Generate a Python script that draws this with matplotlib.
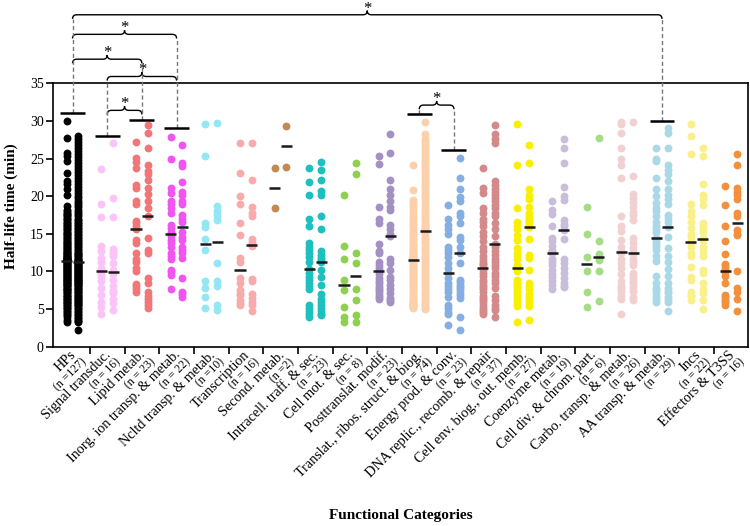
import numpy as np
import matplotlib
matplotlib.use("Agg")
import matplotlib.pyplot as plt
from matplotlib.path import Path
from matplotlib.patches import PathPatch

plt.rcParams['font.family'] = ['Liberation Serif', 'DejaVu Serif']

categories = ["HPs", "Signal transduc.", "Lipid metab.", "Inorg. ion transp. & metab.",
              "Ncltd transp. & metab.", "Transcription", "Second. metab.",
              "Intracell. traff. & sec.", "Cell mot. & sec.", "Posttranslat. modif.",
              "Translat., ribos. struct. & biog.", "Energy prod. & conv.",
              "DNA replic., recomb. & repair", "Cell env. biog., out. memb.",
              "Coenzyme metab.", "Cell div. & chrom. part.", "Carbo. transp. & metab.",
              "AA transp. & metab.", "Incs", "Effectors & T3SS"]
n_labels = ["(n =127)", "(n = 16)", "(n = 23)", "(n = 22)", "(n =10)", "(n = 16)", "(n =2)",
            "(n = 23)", "(n = 8)", "(n = 23)", "(n = 74)", "(n = 23)", "(n = 37)", "(n = 27)",
            "(n = 19)", "(n = 6)", "(n = 26)", "(n = 29)", "(n = 22)", "(n = 16)"]
colors = ["#000000", "#fbc3f7", "#f27578", "#f055f0", "#93e7f4", "#f9aaaa", "#c28a52",
          "#1dbfbf", "#8fd14f", "#a391c4", "#fcd0aa", "#85aee2", "#d4898a", "#f8f000",
          "#c9bddb", "#a6dc86", "#f1d0d2", "#a9d8e6", "#f9f08a", "#f2903e"]

hps_1 = [30.0, 27.7, 25.8, 25.4, 24.7, 23.1, 22.0, 21.6, 20.9, 20.2, 18.7,
         18.2, 18.0, 17.8, 17.6, 17.5, 17.3, 17.1, 17.0, 16.8, 16.6, 16.5, 16.3, 16.1, 16.0,
         15.8, 15.6, 15.5, 15.3, 15.1, 15.0, 14.8, 14.7, 14.5, 14.4, 14.2, 14.1, 13.9, 13.8,
         13.6, 13.5, 13.4, 13.2, 13.1, 13.0, 12.9, 12.7, 12.6, 12.5, 12.4, 12.3, 12.2, 12.1,
         12.0, 11.9, 11.8, 11.8, 11.7, 11.6, 11.6, 11.5, 11.5, 11.4, 11.4,
         11.3, 11.2, 11.1, 11.0, 10.9, 10.8, 10.7, 10.6, 10.5, 10.4, 10.3, 10.2, 10.1, 10.0,
         9.9, 9.8, 9.7, 9.6, 9.5, 9.4, 9.3, 9.2, 9.1, 9.0, 8.9, 8.8, 8.7, 8.6, 8.5, 8.4,
         8.3, 8.2, 8.1, 8.0, 7.8, 7.7, 7.6, 7.5, 7.4, 7.2, 7.1, 7.0, 6.8, 6.7, 6.6, 6.4,
         6.3, 6.2, 6.0, 5.9, 5.8, 5.6, 5.5, 5.3, 5.2, 5.0, 4.8, 4.6, 4.4, 4.2, 3.9, 3.6, 3.3]
hps_2 = [28.0, 27.6, 27.2, 26.8, 26.4, 26.0, 25.6, 25.2, 24.8, 24.4, 24.0, 23.6, 23.2,
         22.8, 22.4, 22.0, 21.6, 21.2, 20.8, 20.4, 20.0, 19.7, 19.4, 19.1, 18.8, 18.5, 18.2,
         17.9, 17.6, 17.3, 17.0, 16.8, 16.6, 16.4, 16.2, 16.0, 15.8, 15.6, 15.4, 15.2, 15.0,
         14.8, 14.6, 14.4, 14.2, 14.0, 13.8, 13.6, 13.4, 13.2, 13.0, 12.8, 12.6, 12.5, 12.3,
         12.2, 12.0, 11.9, 11.7, 11.6, 11.5, 11.4, 11.3, 11.2,
         11.1, 11.0, 10.9, 10.8, 10.7, 10.6, 10.5, 10.4, 10.3, 10.2, 10.1, 10.0, 9.9, 9.8,
         9.7, 9.6, 9.5, 9.4, 9.3, 9.2, 9.1, 9.0, 8.9, 8.8, 8.7, 8.6, 8.5, 8.4, 8.3, 8.2,
         8.1, 8.0, 7.8, 7.7, 7.6, 7.4, 7.3, 7.2, 7.0, 6.9, 6.8, 6.6, 6.5, 6.4, 6.2, 6.1,
         6.0, 5.8, 5.7, 5.5, 5.4, 5.2, 5.0, 4.8, 4.6, 4.4, 4.2, 4.0, 3.8, 3.6, 3.4, 3.3, 2.2]
signal_1 = [23.6, 18.9, 17.2, 13.4, 12.7, 11.8, 11.2, 10.5, 9.7, 9.2, 8.7, 7.8, 6.9, 6.0, 5.3, 4.4]
signal_2 = [27.0, 19.8, 17.2, 13.0, 12.4, 12.0, 11.1, 10.2, 9.7, 8.9, 8.0, 7.4, 7.1, 6.4, 5.8, 4.9]
lipid_1 = [27.2, 25.1, 24.6, 23.8, 21.5, 21.1, 19.4, 19.0, 16.7, 16.4, 16.1, 15.6, 14.2, 13.8,
           12.4, 11.6, 11.2, 10.4, 10.0, 8.3, 8.0, 7.7, 7.3]
lipid_2 = [29.4, 28.4, 26.4, 24.2, 23.3, 22.9, 22.2, 21.1, 20.3, 19.3, 18.4, 17.4, 14.4, 12.9,
           12.4, 9.1, 8.4, 7.3, 6.8, 6.4, 6.0, 5.5, 5.1]
inorg_1 = [27.9, 24.9, 21.1, 20.4, 19.4, 18.9, 18.4, 17.8, 16.2, 15.8, 15.3, 14.7, 14.2, 13.8,
           13.3, 12.4, 12.0, 11.6, 10.2, 9.9, 9.5, 7.6]
inorg_2 = [26.8, 24.4, 24.0, 21.9, 20.5, 20.1, 19.4, 18.9, 17.5, 17.0, 16.6, 15.2, 14.6, 14.2,
           13.3, 12.8, 12.4, 11.8, 9.1, 7.3, 7.0, 6.6]
ncltd_1 = [29.6, 25.3, 16.4, 15.9, 14.3, 12.9, 8.7, 7.8, 6.6, 5.1]
ncltd_2 = [29.7, 18.7, 18.0, 17.5, 16.8, 11.1, 8.7, 8.0, 5.6, 4.9]
transc_1 = [27.0, 23.1, 20.0, 18.9, 16.45, 14.8, 11.8, 11.3, 9.1, 8.45, 7.56, 7.0, 6.9, 6.2, 5.8, 5.56]
transc_2 = [27.0, 22.2, 18.5, 17.8, 17.3, 14.3, 13.9, 13.7, 13.4, 9.0, 8.7, 7.0, 6.5, 6.0, 5.5, 4.8]
second_1 = [23.8, 18.4]
second_2 = [29.3, 23.9]
intra_1 = [23.8, 21.9, 20.2, 17.0, 16.0, 13.8, 13.3, 12.9, 12.4, 11.9, 11.2, 10.3, 9.8, 9.3,
           8.9, 8.5, 8.1, 7.6, 5.6, 5.1, 4.7, 4.3, 4.0]
intra_2 = [24.5, 23.5, 22.2, 20.7, 20.2, 17.3, 15.6, 12.7, 12.2, 11.8, 11.5, 11.2, 10.2, 9.3,
           8.2, 7.0, 6.4, 6.0, 5.6, 5.1, 4.7, 4.4, 4.2]
cellmot_1 = [20.1, 13.4, 11.6, 8.9, 7.56, 5.24, 4.0, 3.3]
cellmot_2 = [24.4, 23.0, 12.4, 11.1, 7.65, 6.2, 4.2, 3.3]
posttr_1 = [25.4, 24.3, 18.6, 16.9, 16.5, 13.7, 12.7, 12.4, 11.2, 10.8, 10.4, 10.0, 9.6, 9.1,
            8.7, 8.4, 8.1, 7.8, 7.5, 7.2, 6.9, 6.6, 6.4]
posttr_2 = [28.3, 25.8, 22.2, 21.0, 20.2, 19.3, 18.6, 18.1, 16.2, 15.6, 15.0, 14.7, 11.6, 11.1,
            10.2, 9.2, 8.9, 8.2, 7.6, 7.1, 6.5, 6.2, 6.0]
transl_1 = [24.1, 20.8, 19.5, 19.2, 18.8, 18.5, 18.1, 17.8, 17.4, 17.1, 16.8, 16.5, 16.2, 15.9,
            15.6, 15.3, 15.0, 14.7, 14.5, 14.2, 14.0, 13.7, 13.5, 13.3, 13.1, 12.9, 12.7, 12.5,
            12.4, 12.2, 12.1, 12.0, 11.9, 11.8, 11.7, 11.6, 11.6,
            11.5, 11.4, 11.2, 11.0, 10.8, 10.6, 10.4, 10.2, 10.0, 9.8, 9.6, 9.4, 9.2, 9.0, 8.8,
            8.6, 8.4, 8.2, 8.0, 7.8, 7.6, 7.4, 7.2, 7.0, 6.8, 6.6, 6.4, 6.2, 6.0, 5.9, 5.8, 5.7,
            5.6, 5.5, 5.4, 5.3, 5.2]
transl_2 = [29.8, 28.2, 27.6, 27.2, 26.8, 26.4, 26.0, 25.6, 25.2, 24.8, 24.4, 24.0, 23.6, 23.2,
            22.8, 22.4, 22.0, 21.6, 21.2, 20.8, 20.4, 20.0, 19.6, 19.2, 18.8, 18.4, 18.0, 17.7,
            17.4, 17.1, 16.8, 16.5, 16.2, 16.0, 15.8, 15.6, 15.5,
            15.3, 15.1, 14.8, 14.5, 14.2, 13.9, 13.6, 13.3, 13.0, 12.7, 12.4, 12.1, 11.8, 11.5,
            11.2, 10.9, 10.6, 10.3, 10.0, 9.7, 9.4, 9.1, 8.8, 8.5, 8.2, 7.9, 7.6, 7.3, 7.0, 6.7,
            6.4, 6.1, 5.8, 5.6, 5.4, 5.2, 5.0]
energy_1 = [18.8, 17.0, 16.2, 15.6, 15.0, 13.3, 12.9, 12.4, 11.9, 11.1, 10.5, 9.8, 9.1, 8.5,
            8.0, 7.7, 7.3, 6.6, 5.6, 5.1, 4.6, 4.3, 2.9]
energy_2 = [25.1, 22.4, 20.9, 19.9, 19.3, 17.8, 17.4, 16.4, 14.6, 14.2, 13.3, 12.4, 11.1, 8.9,
            8.6, 8.2, 7.9, 7.6, 7.2, 6.9, 6.5, 4.0, 2.2]
dna_1 = [23.7, 21.1, 20.4, 18.4, 17.8, 17.0, 16.6, 16.1, 15.3, 14.7, 14.0, 13.3, 12.7, 12.0,
         11.7, 11.3, 11.0, 10.8, 10.5, 10.2, 9.8, 9.4, 8.9, 8.6, 8.2, 7.9, 7.6, 7.2, 6.8, 6.5,
         6.2, 5.9, 5.6, 5.2, 4.9, 4.6, 4.4]
dna_2 = [29.4, 28.3, 27.6, 27.0, 22.0, 21.5, 21.0, 20.6, 20.2, 19.7, 19.3, 18.8, 18.4, 17.8,
         17.3, 16.4, 15.6, 14.7, 13.7, 13.2, 12.7, 12.2, 11.6, 11.2, 10.8, 10.4, 9.8, 9.4, 8.9,
         8.4, 7.8, 6.8, 6.2, 5.6, 5.2, 4.9, 4.0]
cellenv_1 = [29.6, 24.1, 18.4, 16.6, 16.1, 15.6, 14.9, 14.2, 13.1, 12.4, 12.0, 11.6, 10.9, 10.45,
             10.0, 8.9, 8.5, 8.2, 7.9, 7.6, 7.2, 6.9, 6.5, 6.2, 5.8, 5.4, 3.3]
cellenv_2 = [26.8, 24.4, 20.9, 20.2, 19.6, 18.6, 17.8, 17.3, 17.0, 16.8, 16.6, 16.3, 16.1, 15.9,
             14.3, 12.2, 11.8, 10.2, 8.5, 8.0, 7.6, 7.0, 6.6, 6.2, 5.8, 5.4, 3.6]
coenz_1 = [19.4, 18.2, 17.6, 16.1, 14.5, 14.0, 13.4, 12.9, 12.6, 12.4, 11.6, 11.2, 10.9, 10.2,
           9.6, 9.2, 8.7, 8.2, 7.6]
coenz_2 = [27.6, 26.4, 24.4, 21.2, 20.0, 19.5, 16.8, 16.3, 16.0, 15.55, 14.3, 11.6, 11.1, 10.4,
           9.8, 9.1, 8.5, 8.1, 7.9]
celldiv_1 = [18.5, 14.96, 11.9, 10.0, 7.2, 5.33]
celldiv_2 = [27.7, 14.1, 12.3, 11.5, 10.0, 6.1]
carbo_1 = [29.9, 29.6, 28.4, 26.4, 24.9, 24.2, 22.4, 17.3, 16.0, 15.4, 14.2, 13.3, 12.7, 12.4,
           11.6, 11.1, 10.4, 9.6, 8.7, 8.2, 7.9, 7.6, 7.2, 6.8, 6.4, 4.3]
carbo_2 = [29.9, 22.7, 20.3, 19.8, 19.2, 18.5, 17.9, 17.5, 16.8, 14.4, 13.8, 13.1, 12.6, 12.3,
           11.6, 11.2, 10.9, 9.8, 9.4, 9.1, 8.7, 8.4, 7.9, 7.4, 6.6, 6.2]
aa_1 = [26.4, 25.0, 24.7, 22.4, 20.9, 20.0, 19.1, 18.4, 18.0, 17.4, 16.6, 16.1, 15.6, 15.2, 14.5,
        14.0, 13.6, 13.2, 12.8, 12.0, 11.4, 9.4, 8.4, 7.8, 7.5, 7.3, 6.8, 6.3, 6.0]
aa_2 = [29.1, 28.4, 26.4, 24.2, 23.5, 22.9, 22.0, 20.9, 20.2, 19.6, 18.9, 17.5, 17.1, 16.6, 15.9,
        14.6, 13.1, 12.0, 11.2, 10.3, 9.4, 8.4, 7.8, 7.4, 7.1, 6.6, 6.3, 6.0, 4.8]
incs_1 = [29.6, 28.0, 25.6, 19.0, 18.0, 17.4, 16.6, 15.8, 15.0, 14.6, 14.1, 13.7, 13.3, 12.4,
          12.0, 10.6, 9.3, 8.9, 7.3, 6.9, 6.7, 6.2]
incs_2 = [26.4, 25.3, 21.6, 20.2, 19.6, 18.8, 16.5, 16.0, 15.6, 15.3, 14.5, 14.1, 13.3, 12.7,
          12.0, 10.2, 9.8, 8.4, 7.6, 7.1, 6.2, 5.0]
effect_1 = [21.4, 18.8, 16.1, 14.1, 12.3, 11.0, 10.7, 10.3, 9.9, 9.4, 8.5, 6.9, 6.6, 6.2, 5.9, 5.6]
effect_2 = [25.6, 24.1, 21.1, 20.5, 20.2, 19.6, 17.7, 17.3, 15.5, 15.0, 14.8, 10.0, 7.8, 7.3, 6.4, 4.8]

series_1 = [hps_1, signal_1, lipid_1, inorg_1, ncltd_1, transc_1, second_1, intra_1, cellmot_1,
            posttr_1, transl_1, energy_1, dna_1, cellenv_1, coenz_1, celldiv_1, carbo_1, aa_1,
            incs_1, effect_1]
series_2 = [hps_2, signal_2, lipid_2, inorg_2, ncltd_2, transc_2, second_2, intra_2, cellmot_2,
            posttr_2, transl_2, energy_2, dna_2, cellenv_2, coenz_2, celldiv_2, carbo_2, aa_2,
            incs_2, effect_2]

cap_index = [0, 1, 2, 3, 10, 11, 17]
cap_values = [31.0, 28.0, 30.1, 29.0, 30.9, 26.1, 30.05]
bracket_pairs = [(0, 17), (0, 3), (0, 2), (1, 3), (1, 2), (10, 11)]
bracket_levels = [44.1, 41.5, 38.2, 35.9, 31.4, 32.1]

fig = plt.figure(figsize=(7.5, 5.26), dpi=100)
ax = fig.add_axes([0.0713, 0.3409, 0.926, 0.5008])
off = 0.17
for i, (a, b) in enumerate(zip(series_1, series_2)):
    for dx, vals in ((-off, a), (off, b)):
        ax.scatter(np.full(len(vals), i + dx), vals, s=32, color=colors[i], linewidths=0,
                   zorder=2, clip_on=False)
        med = np.median(vals)
        ax.plot([i + dx - 0.16, i + dx + 0.16], [med, med], color="#1a1a1a", lw=1.8,
                solid_capstyle="butt", zorder=4)

for ci, cv in zip(cap_index, cap_values):
    ax.plot([ci - 0.36, ci + 0.36], [cv, cv], color="black", lw=1.8, solid_capstyle="butt",
            zorder=4, clip_on=False)

rx, dy = 0.12, 0.55
for (i, j), lev in zip(bracket_pairs, bracket_levels):
    xm = (i + j) / 2
    verts = [(i, lev - dy), (i, lev), (i + rx, lev), (xm - rx, lev), (xm, lev), (xm, lev + dy),
             (xm, lev), (xm + rx, lev), (j - rx, lev), (j, lev), (j, lev - dy)]
    codes = [Path.MOVETO, Path.CURVE3, Path.CURVE3, Path.LINETO, Path.CURVE3, Path.CURVE3,
             Path.CURVE3, Path.CURVE3, Path.LINETO, Path.CURVE3, Path.CURVE3]
    ax.add_patch(PathPatch(Path(verts, codes), fill=False, lw=1.0, color="black", clip_on=False))
    ax.text(xm, lev + 0.3, "*", ha="center", va="baseline", fontsize=12, clip_on=False)

for ci, cv in zip(cap_index, cap_values):
    top = max(lev for (i, j), lev in zip(bracket_pairs, bracket_levels) if ci in (i, j))
    ax.plot([ci, ci], [cv, top - dy], color="#777777", lw=1.0, ls=(0, (3, 2)), zorder=3,
            clip_on=False)

ax.set_xlim(-0.55, 19.48)
ax.set_ylim(0, 35)
ax.set_yticks(range(0, 36, 5))
ax.tick_params(axis="y", direction="out", length=5, width=1.2, labelsize=10, pad=2)
ax.set_xticks([])
ax.set_xticks(np.arange(0.5, 19.0, 1.0), minor=True)
ax.tick_params(axis="x", which="minor", direction="out", length=5, width=1.2)
for s in ax.spines.values():
    s.set_linewidth(1.2)

for i, (name, nl) in enumerate(zip(categories, n_labels)):
    ax.annotate(name, xy=(i, 0), xycoords=("data", "axes fraction"), xytext=(3.0, -6.3),
                textcoords="offset points", rotation=45, ha="right", va="baseline",
                rotation_mode="anchor", fontsize=10.2)
    ax.annotate(nl, xy=(i, 0), xycoords=("data", "axes fraction"), xytext=(10.0, -11.3),
                textcoords="offset points", rotation=45, ha="right", va="baseline",
                rotation_mode="anchor", fontsize=8.5)

ax.set_ylabel("Half-life time (min)", fontsize=11, fontweight="bold")
ax.yaxis.set_label_coords(-0.051, 0.534)
fig.text(401 / 750, 1 - 515 / 526, "Functional Categories", ha="center", va="center",
         fontsize=11, fontweight="bold")

fig.savefig("out.png", dpi=100)
